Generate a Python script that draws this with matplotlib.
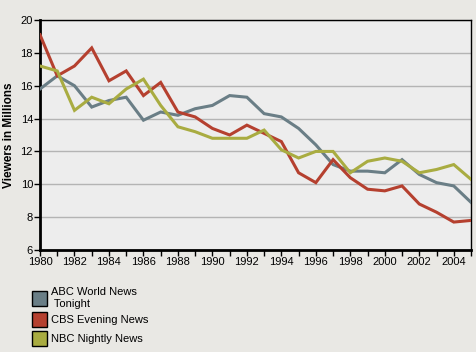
import matplotlib.pyplot as plt
from matplotlib.patches import Patch
from matplotlib.ticker import MultipleLocator

plt.rcParams['font.family'] = ['Liberation Sans', 'DejaVu Sans']

years = list(range(1980, 2006))
abc = [15.8, 16.6, 16.0, 14.7, 15.1, 15.3, 13.9, 14.4, 14.2, 14.6, 14.8, 15.4, 15.3,
       14.3, 14.1, 13.4, 12.4, 11.2, 10.8, 10.8, 10.7, 11.5, 10.6, 10.1, 9.9, 8.9]
cbs = [19.1, 16.6, 17.2, 18.3, 16.3, 16.9, 15.4, 16.2, 14.4, 14.1, 13.4, 13.0, 13.6,
       13.1, 12.6, 10.7, 10.1, 11.5, 10.4, 9.7, 9.6, 9.9, 8.8, 8.3, 7.7, 7.8]
nbc = [17.2, 16.9, 14.5, 15.3, 14.9, 15.8, 16.4, 14.8, 13.5, 13.2, 12.8, 12.8, 12.8,
       13.3, 12.1, 11.6, 12.0, 12.0, 10.7, 11.4, 11.6, 11.4, 10.7, 10.9, 11.2, 10.3]
names = ['ABC World News\n Tonight', 'CBS Evening News', 'NBC Nightly News']
colors = ['#6a7e86', '#b5402f', '#a9ac41']

fig = plt.figure(figsize=(4.76, 3.52), dpi=100, facecolor='#e9e8e4')
ax = fig.add_axes([40 / 476, 1 - 250 / 352, 431 / 476, 230 / 352])
ax.set_facecolor('#ededed')

for vals, c in zip([abc, cbs, nbc], colors):
    ax.plot(years, vals, color=c, lw=2.2, solid_joinstyle='miter', zorder=3)

ax.set_xlim(1980, 2005)
ax.set_ylim(6, 20)
ax.xaxis.set_major_locator(MultipleLocator(2))
ax.xaxis.set_minor_locator(MultipleLocator(1))
ax.yaxis.set_major_locator(MultipleLocator(2))
ax.grid(axis='y', color='#b4b4b4', lw=1)
ax.set_axisbelow(True)

for s in ['top', 'right']:
    ax.spines[s].set_linewidth(1)
for s in ['left', 'bottom']:
    ax.spines[s].set_linewidth(2)
ax.tick_params(axis='both', which='both', direction='out', labelsize=8,
               color='black', pad=1)
ax.tick_params(which='major', length=4, width=1)
ax.tick_params(which='minor', length=4, width=1)

ax.set_ylabel('Viewers in Millions', fontsize=8.5, fontweight='bold', labelpad=4)

handles = [Patch(facecolor=c, edgecolor='black', lw=1) for c in colors]
fig.legend(handles, names, loc='upper left', bbox_to_anchor=(28 / 476, 1 - 283 / 352),
           frameon=False, fontsize=8, handlelength=1.3, handleheight=1.7,
           handletextpad=0.4, labelspacing=0.3, borderaxespad=0)

fig.savefig('out.png', dpi=100, facecolor=fig.get_facecolor())
